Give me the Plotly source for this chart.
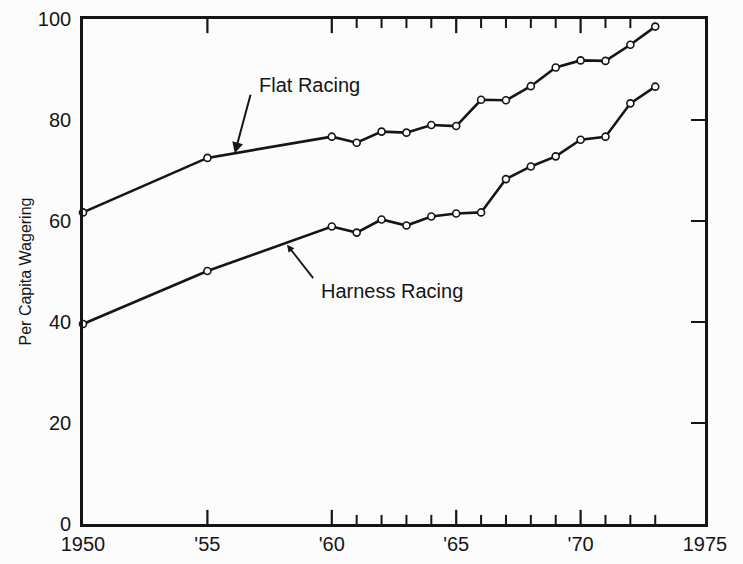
import plotly.graph_objects as go

years_flat = [1950, 1955, 1960, 1961, 1962, 1963, 1964, 1965, 1966, 1967, 1968, 1969, 1970, 1971, 1972, 1973]
flat = [61.7, 72.5, 76.7, 75.5, 77.7, 77.5, 79.0, 78.8, 84.0, 83.9, 86.7, 90.4, 91.8, 91.7, 94.9, 98.5]
years_harness = [1950, 1955, 1960, 1961, 1962, 1963, 1964, 1965, 1966, 1967, 1968, 1969, 1970, 1971, 1972, 1973]
harness = [39.6, 50.1, 58.9, 57.7, 60.3, 59.1, 60.9, 61.5, 61.7, 68.3, 70.8, 72.8, 76.1, 76.7, 83.3, 86.6]

x_tickvals = [1950, 1955, 1960, 1965, 1970, 1975]
x_ticktext = ["1950", "'55", "'60", "'65", "'70", "1975"]
x_major_marks = [1955, 1960, 1965, 1970]
x_bottom_minor = [1961, 1962, 1963, 1964, 1966, 1967, 1968, 1969, 1971, 1972, 1973]
x_top_minor = [1961, 1962, 1963, 1964, 1966, 1967, 1968, 1969, 1971, 1972]
y_tickvals = [0, 20, 40, 60, 80, 100]
y_right_ticks = [20, 40, 60, 80]

ink = "#151515"
font = "Liberation Sans, Arial, sans-serif"
xr = [1950, 1975]
yr = [0, 100]

fig = go.Figure()
for xs, ys in [(years_flat, flat), (years_harness, harness)]:
    fig.add_trace(go.Scatter(
        x=xs, y=ys, mode="lines+markers",
        line=dict(color=ink, width=2.6),
        marker=dict(symbol="circle", size=7, color="white", line=dict(color=ink, width=1.6)),
        cliponaxis=False, showlegend=False, hoverinfo="skip"))

# inward tick marks on the bottom and top frame, drawn as one-sided error bars
major_len = 2.8   # in y units (~14 px)
minor_len = 1.8   # (~9 px)
for xs, edge, ln, w in [(x_major_marks, yr[0], major_len, 2.2), (x_bottom_minor, yr[0], minor_len, 2.0),
                        (x_major_marks, yr[1], major_len, 2.2), (x_top_minor, yr[1], minor_len, 2.0)]:
    up = edge == yr[0]
    fig.add_trace(go.Scatter(
        x=xs, y=[edge] * len(xs), mode="markers", marker=dict(size=1, opacity=0),
        error_y=dict(type="data", symmetric=False,
                     array=[ln if up else 0] * len(xs), arrayminus=[0 if up else ln] * len(xs),
                     thickness=w, width=0, color=ink),
        cliponaxis=False, showlegend=False, hoverinfo="skip"))

# invisible trace that carries the right-hand tick axis
fig.add_trace(go.Scatter(x=years_flat, y=flat, yaxis="y2", mode="lines",
                         opacity=0, showlegend=False, hoverinfo="skip"))

fig.update_layout(
    width=743, height=564,
    margin=dict(l=83, r=38, t=19, b=40, autoexpand=False),
    paper_bgcolor="#fcfcfc", plot_bgcolor="#fcfcfc",
    font=dict(family=font, color=ink, size=20),
    xaxis=dict(range=xr, tickvals=x_tickvals, ticktext=x_ticktext, ticks="",
               showline=True, linecolor=ink, linewidth=2.6, mirror=True,
               showgrid=False, zeroline=False, automargin=False,
               tickfont=dict(size=20, color=ink)),
    yaxis=dict(range=yr, tickvals=y_tickvals, ticks="",
               showline=True, linecolor=ink, linewidth=2.6, mirror=True,
               showgrid=False, zeroline=False, automargin=False,
               tickfont=dict(size=20, color=ink), ticklabelstandoff=5,
               title=dict(text="Per Capita Wagering", font=dict(size=16, color=ink), standoff=3)),
    yaxis2=dict(range=yr, overlaying="y", side="right", tickvals=y_right_ticks,
                ticks="inside", ticklen=14, tickwidth=2.4, tickcolor=ink, automargin=False,
                showticklabels=False, showgrid=False, zeroline=False, showline=False),
)

# annotations
fig.add_annotation(x=1959.1, y=87.0, text="Flat Racing", showarrow=False,
                   font=dict(size=20, color=ink))
fig.add_annotation(x=1956.1, y=73.4, ax=1956.75, ay=85.3, axref="x", ayref="y",
                   text="", showarrow=True, arrowhead=2, arrowsize=1.1, arrowwidth=2, arrowcolor=ink)
fig.add_annotation(x=1962.4, y=46.1, text="Harness Racing", showarrow=False,
                   font=dict(size=20, color=ink))
fig.add_annotation(x=1958.2, y=55.3, ax=1959.3, ay=48.4, axref="x", ayref="y",
                   text="", showarrow=True, arrowhead=2, arrowsize=0.8, arrowwidth=1.8, arrowcolor=ink)

fig.write_html("out.html", config={"displayModeBar": False},
               post_script="document.body.style.margin='0';document.body.style.overflow='hidden';")
